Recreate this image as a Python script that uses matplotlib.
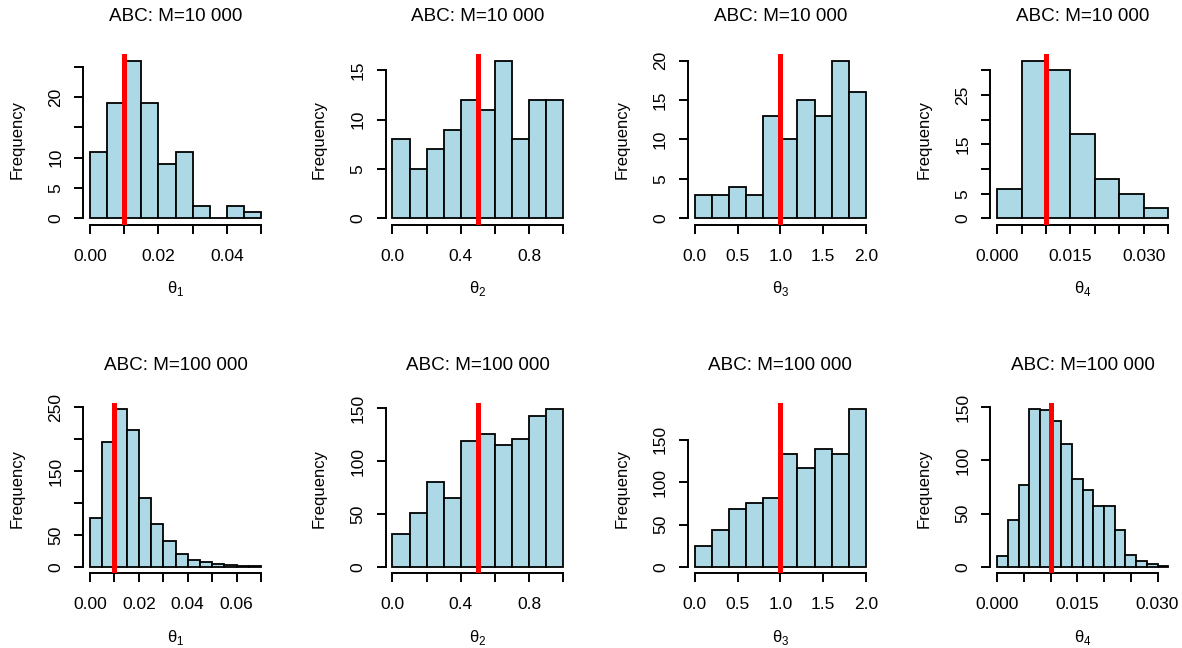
import numpy as np
import matplotlib
matplotlib.use("Agg")
from matplotlib import pyplot as plt

plt.rcParams['font.family'] = ['Liberation Sans', 'DejaVu Sans']
plt.rcParams['mathtext.fontset'] = 'custom'
plt.rcParams['mathtext.rm'] = 'Liberation Sans'

# bin edges (parameter values)
edges_t1_10k = np.arange(0, 0.0501, 0.005)
edges_t2 = np.arange(0, 1.001, 0.1)
edges_t3 = np.arange(0, 2.001, 0.2)
edges_t4_10k = np.arange(0, 0.0351, 0.005)
edges_t1_100k = np.arange(0, 0.0701, 0.005)
edges_t4_100k = np.arange(0, 0.0321, 0.002)

# counts
counts_t1_10k = [11, 19, 26, 19, 9, 11, 2, 0, 2, 1]
counts_t2_10k = [8, 5, 7, 9, 12, 11, 16, 8, 12, 12]
counts_t3_10k = [3, 3, 4, 3, 13, 10, 15, 13, 20, 16]
counts_t4_10k = [6, 32, 30, 17, 8, 5, 2]
counts_t1_100k = [76, 195, 247, 215, 108, 68, 40, 20, 11, 8, 5, 3, 1, 1]
counts_t2_100k = [31, 51, 80, 65, 119, 126, 115, 121, 143, 149]
counts_t3_100k = [25, 44, 68, 75, 81, 133, 117, 139, 133, 186]
counts_t4_100k = [10, 44, 77, 148, 147, 137, 115, 83, 72, 57, 57, 35, 11, 6, 3, 1]

true_vals = [0.01, 0.5, 1.0, 0.01]
titles = ["ABC: M=10 000", "ABC: M=100 000"]
xlabels = ["θ$_1$", "θ$_2$", "θ$_3$", "θ$_4$"]

# ticks and the labels R kept
xt_t1_10k = [0, 0.01, 0.02, 0.03, 0.04, 0.05]
xl_t1_10k = ["0.00", "", "0.02", "", "0.04", ""]
xt_t2 = [0, 0.2, 0.4, 0.6, 0.8, 1.0]
xl_t2 = ["0.0", "", "0.4", "", "0.8", ""]
xt_t3 = [0, 0.5, 1.0, 1.5, 2.0]
xl_t3 = ["0.0", "0.5", "1.0", "1.5", "2.0"]
xt_t4_10k = [0, 0.005, 0.01, 0.015, 0.02, 0.025, 0.03, 0.035]
xl_t4_10k = ["0.000", "", "", "0.015", "", "", "0.030", ""]
xt_t1_100k = [0, 0.01, 0.02, 0.03, 0.04, 0.05, 0.06, 0.07]
xl_t1_100k = ["0.00", "", "0.02", "", "0.04", "", "0.06", ""]
xt_t4_100k = [0, 0.005, 0.01, 0.015, 0.02, 0.025, 0.03]
xl_t4_100k = ["0.000", "", "", "0.015", "", "", "0.030"]

yt_1 = [0, 5, 10, 15, 20, 25]
yl_1 = ["0", "5", "10", "", "20", ""]
yt_2 = [0, 5, 10, 15]
yl_2 = ["0", "5", "10", "15"]
yt_3 = [0, 5, 10, 15, 20]
yl_3 = ["0", "5", "10", "15", "20"]
yt_4 = [0, 5, 10, 15, 20, 25, 30]
yl_4 = ["0", "5", "", "15", "", "25", ""]
yt_5 = [0, 50, 100, 150, 200, 250]
yl_5 = ["0", "50", "", "150", "", "250"]
yt_6 = [0, 50, 100, 150]
yl_6 = ["0", "50", "100", "150"]

panels = [
    (edges_t1_10k, counts_t1_10k, xt_t1_10k, xl_t1_10k, yt_1, yl_1),
    (edges_t2, counts_t2_10k, xt_t2, xl_t2, yt_2, yl_2),
    (edges_t3, counts_t3_10k, xt_t3, xl_t3, yt_3, yl_3),
    (edges_t4_10k, counts_t4_10k, xt_t4_10k, xl_t4_10k, yt_4, yl_4),
    (edges_t1_100k, counts_t1_100k, xt_t1_100k, xl_t1_100k, yt_5, yl_5),
    (edges_t2, counts_t2_100k, xt_t2, xl_t2, yt_6, yl_6),
    (edges_t3, counts_t3_100k, xt_t3, xl_t3, yt_6, yl_6),
    (edges_t4_100k, counts_t4_100k, xt_t4_100k, xl_t4_100k, yt_6, yl_6),
]

W, H = 1182, 648
fig = plt.figure(figsize=(W / 100, H / 100), dpi=100)

for i, (edges, counts, xt, xl, yt, yl) in enumerate(panels):
    r, c = divmod(i, 4)
    left = 90 + 302.4 * c - 6.84
    top = 54.2 + 348.7 * r
    ax = fig.add_axes([left / W, 1 - (top + 170.4) / H, 184.7 / W, 170.4 / H])
    edges = np.asarray(edges)
    ax.bar(edges[:-1], counts, width=np.diff(edges), align='edge',
           color='#ADD8E6', edgecolor='black', linewidth=1.3)
    ax.axvline(true_vals[c], color='red', lw=3.6, zorder=5)
    lo, hi = edges[0], edges[-1]
    ax.set_xlim(lo - 0.04 * (hi - lo), hi + 0.04 * (hi - lo))
    m = max(counts)
    ax.set_ylim(-0.04 * m, 1.04 * m)
    for s in ['top', 'right']:
        ax.spines[s].set_visible(False)
    ax.spines['left'].set_bounds(yt[0], yt[-1])
    ax.spines['bottom'].set_bounds(xt[0], xt[-1])
    for s in ['left', 'bottom']:
        ax.spines[s].set_linewidth(1.4)
    ax.set_xticks(xt)
    ax.set_xticklabels(xl)
    ax.set_yticks(yt)
    ax.set_yticklabels(yl, rotation=90, va='center')
    ax.tick_params(axis='both', length=6.3, width=1.4, labelsize=12.5)
    ax.tick_params(axis='x', pad=11)
    ax.tick_params(axis='y', pad=8)
    ax.set_title(titles[r], fontsize=13.6, pad=24)
    ax.set_xlabel(xlabels[c], fontsize=12, labelpad=11)
    ax.set_ylabel("Frequency", fontsize=12, labelpad=17)

fig.savefig("out.png", dpi=100)
